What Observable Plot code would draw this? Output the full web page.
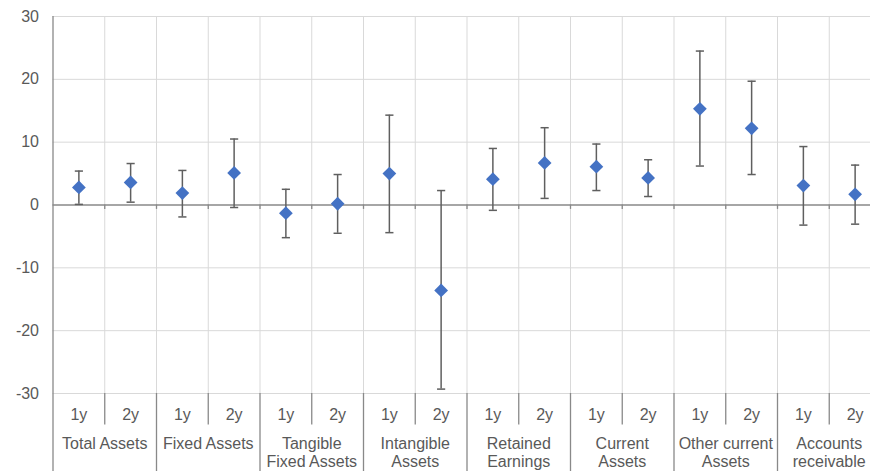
<!DOCTYPE html>
<html>
<head>
<meta charset="utf-8">
<script src="https://cdn.jsdelivr.net/npm/d3@7"></script>
<script src="https://cdn.jsdelivr.net/npm/@observablehq/plot@0.6"></script>
<style>
  html, body { margin: 0; padding: 0; background: #fff; }
  #chart { width: 870px; height: 471px; overflow: hidden; }
</style>
</head>
<body>
<div id="chart"></div>
<script>
// ---- data ----
const groups = ["Total Assets", "Fixed Assets", "Tangible\nFixed Assets", "Intangible\nAssets",
  "Retained\nEarnings", "Current\nAssets", "Other current\nAssets", "Accounts\nreceivable"];
const horizons = ["1y", "2y"];
const estimates = [2.8, 3.6, 1.9, 5.1, -1.3, 0.2, 5.0, -13.6, 4.1, 6.7, 6.1, 4.3, 15.3, 12.2, 3.1, 1.7];
const lower = [0.1, 0.45, -1.9, -0.4, -5.2, -4.5, -4.4, -29.3, -0.85, 1.05, 2.3, 1.35, 6.2, 4.85, -3.2, -3.05];
const upper = [5.4, 6.6, 5.5, 10.5, 2.5, 4.85, 14.3, 2.3, 9.0, 12.3, 9.7, 7.2, 24.5, 19.7, 9.3, 6.35];
const yTicks = [-30, -20, -10, 0, 10, 20, 30];

// ---- table built from arrays ----
const rows = estimates.map((v, i) => ({
  idx: i + 0.5,
  group: groups[Math.floor(i / horizons.length)],
  horizon: horizons[i % horizons.length],
  est: v, lo: lower[i], hi: upper[i]
}));
const nBands = estimates.length;
const bandBounds = d3.range(0, nBands + 1);
const innerBounds = bandBounds.filter(b => b % horizons.length !== 0);
const groupBounds = bandBounds.filter(b => b % horizons.length === 0);
const groupRows = groups.map((g, k) => ({ g, idx: k * horizons.length + horizons.length / 2 }));

const capSymbol = {
  draw(context, size) {
    const w = Math.sqrt(size);
    context.moveTo(-w / 2, 0);
    context.lineTo(w / 2, 0);
  }
};

const gridColor = "#d9d9d9";
const axisColor = "#898989";
const textColor = "#595959";

const chart = Plot.plot({
  width: 870,
  height: 471,
  marginLeft: 52.5,
  marginRight: 0,
  marginTop: 16,
  marginBottom: 78,
  style: { fontFamily: "Arial, 'Liberation Sans', sans-serif", fontSize: "16px", color: textColor, background: "#fff", overflow: "hidden" },
  x: { type: "linear", domain: [0, nBands], range: [52.5, 880.5], axis: null },
  y: { domain: [-30, 30], range: [393, 16], axis: null },
  marks: [
    // horizontal gridlines
    Plot.ruleY(yTicks.filter(t => t !== 0), { stroke: gridColor, strokeWidth: 1 }),
    // vertical gridlines at band boundaries
    Plot.ruleX(bandBounds.slice(1), { y1: -30, y2: 30, stroke: gridColor, strokeWidth: 1 }),
    // zero line
    Plot.ruleY([0], { stroke: axisColor, strokeWidth: 1.3 }),
    // small ticks below zero line
    Plot.ruleX(bandBounds.slice(1), { y1: 0, y2: -0.7, stroke: axisColor, strokeWidth: 1.3 }),
    // y axis line (extends through category area)
    Plot.ruleX([0], { y1: 30, y2: -42.5, stroke: axisColor, strokeWidth: 1.3 }),
    // category separators below plot
    Plot.ruleX(innerBounds, { y1: -30, y2: -35, stroke: axisColor, strokeWidth: 1.3 }),
    Plot.ruleX(groupBounds.slice(1), { y1: -30, y2: -42.5, stroke: axisColor, strokeWidth: 1.3 }),
    // y axis labels
    Plot.axisY(yTicks, { tickSize: 0, tickPadding: 14, tickFormat: d => String(d), fontSize: 16, fill: textColor }),
    // horizon labels
    Plot.text(rows, { x: "idx", text: "horizon", frameAnchor: "bottom", lineAnchor: "top", dy: 15, fill: textColor, fontSize: 16 }),
    // group labels
    Plot.text(groupRows, { x: "idx", text: "g", frameAnchor: "bottom", lineAnchor: "top", dy: 42, lineHeight: 1.15, fill: textColor, fontSize: 16 }),
    // error bars
    Plot.ruleX(rows, { x: "idx", y1: "lo", y2: "hi", stroke: "#5f5f5f", strokeWidth: 1.5 }),
    Plot.dot(rows, { x: "idx", y: "lo", symbol: capSymbol, r: 4.6, stroke: "#5f5f5f", strokeWidth: 1.5, fill: "none" }),
    Plot.dot(rows, { x: "idx", y: "hi", symbol: capSymbol, r: 4.6, stroke: "#5f5f5f", strokeWidth: 1.5, fill: "none" }),
    // point estimates
    Plot.dot(rows, { x: "idx", y: "est", symbol: "diamond2", r: 6.2, fill: "#4472c4", stroke: "none" })
  ]
});
document.getElementById("chart").appendChild(chart);
</script>
</body>
</html>
